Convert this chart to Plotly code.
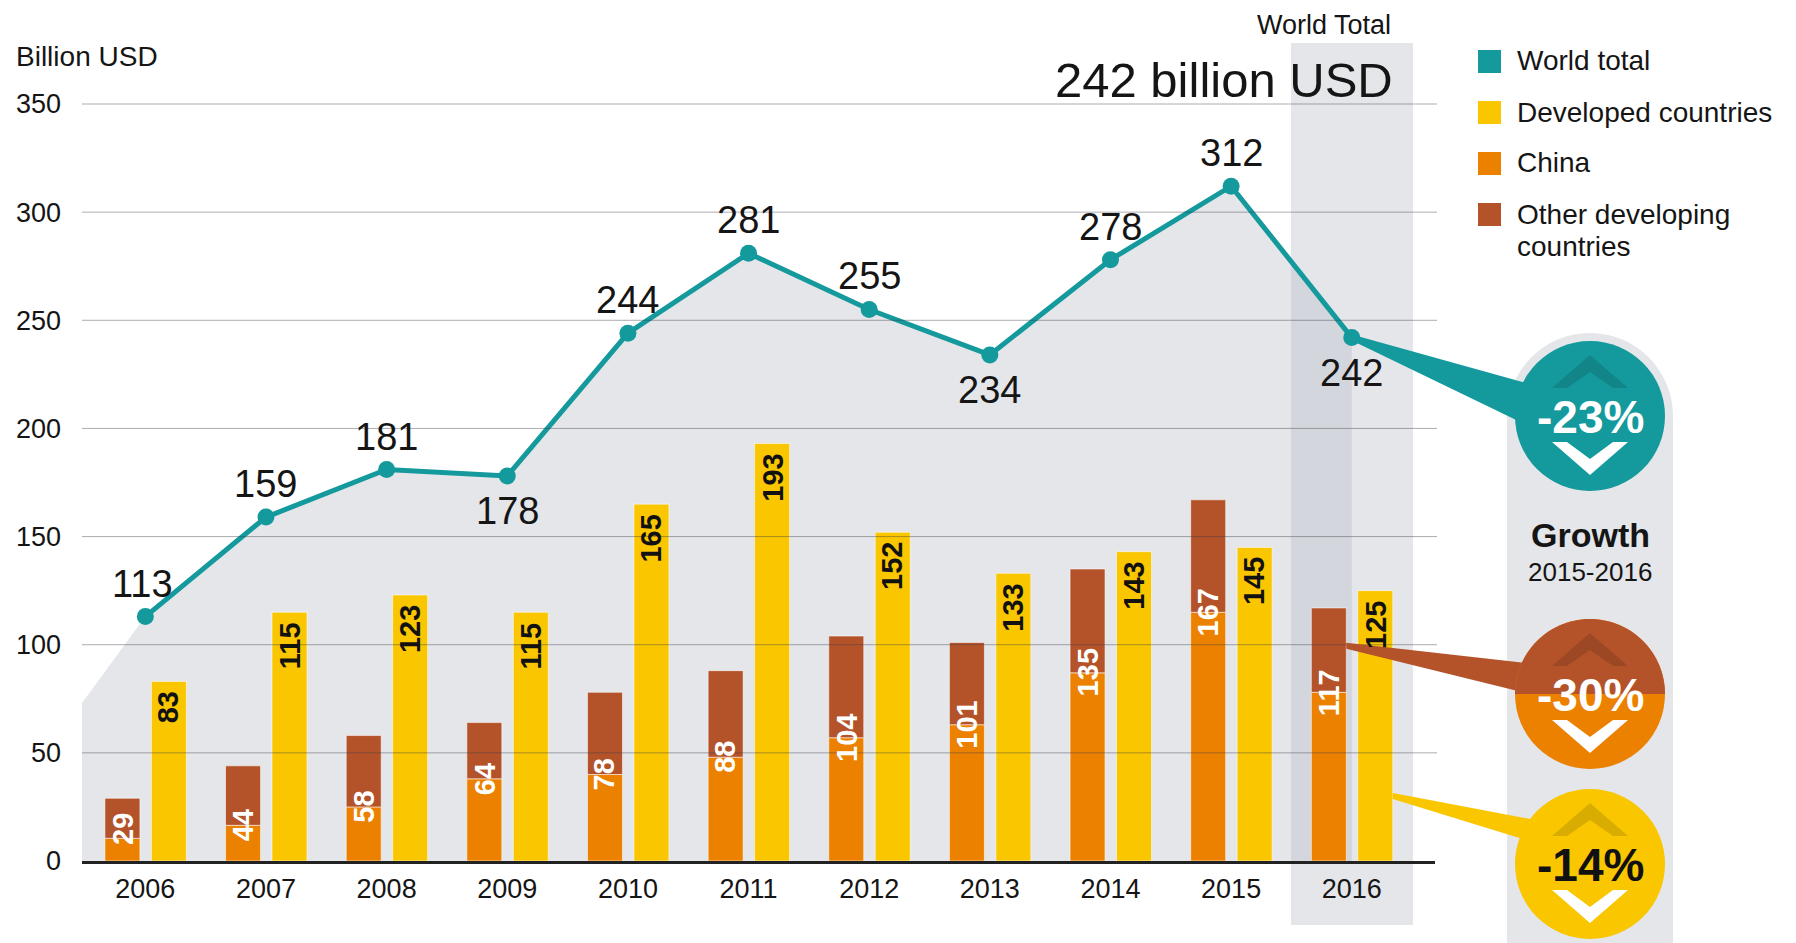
import math
import plotly.graph_objects as go

# ---------------- data ----------------
years = [2006, 2007, 2008, 2009, 2010, 2011, 2012, 2013, 2014, 2015, 2016]
world_total = [113, 159, 181, 178, 244, 281, 255, 234, 278, 312, 242]
developed = [83, 115, 123, 115, 165, 193, 152, 133, 143, 145, 125]
developing_total = [29, 44, 58, 64, 78, 88, 104, 101, 135, 167, 117]
china = [10.5, 16.5, 25, 38, 40, 48, 57, 63, 87, 115, 78]
other_developing = [round(t - c, 1) for t, c in zip(developing_total, china)]
labels_below = [2009, 2013, 2016]
growth_labels = ["-23%", "-30%", "-14%"]
y_ticks = [0, 50, 100, 150, 200, 250, 300, 350]
fill_left_value = 73

# ---------------- style ----------------
TEAL = "#14999c"
YELLOW = "#f9c600"
ORANGE = "#ec8100"
BROWN = "#b4532a"
GREYA = "rgba(180,187,197,0.36)"
PILL = "#e4e6ea"
FONT = "Liberation Sans"
TXT = "#151515"

OFF = 8                      # page body margin
PAGE_W, PAGE_H = 1796, 943
W, H = PAGE_W - OFF, PAGE_H - OFF
L, R, T, B = 82, 1435, 104, 861   # plot area in page pixels
XMIN, XMAX = 2005.475, 2016.69
YMIN, YMAX = 0, 350


def pp(px, py):
    return (px - L) / (R - L), (B - py) / (B - T)


def d2px(x, y):
    return (L + (x - XMIN) / (XMAX - XMIN) * (R - L),
            B - (y - YMIN) / (YMAX - YMIN) * (B - T))


def poly(points):
    parts = []
    for i, (px, py) in enumerate(points):
        x, y = pp(px, py)
        parts.append(("M" if i == 0 else "L") + f"{x:.5f},{y:.5f}")
    return " ".join(parts) + " Z"


def circle_shape(cx, cy, r, color, layer="above"):
    x0, y0 = pp(cx - r, cy + r)
    x1, y1 = pp(cx + r, cy - r)
    return dict(type="circle", xref="paper", yref="paper", x0=x0, y0=y0, x1=x1, y1=y1,
                fillcolor=color, line=dict(width=0), layer=layer)


def rect_shape(px0, py0, px1, py1, color, layer="above"):
    x0, y0 = pp(px0, py1)
    x1, y1 = pp(px1, py0)
    return dict(type="rect", xref="paper", yref="paper", x0=x0, y0=y0, x1=x1, y1=y1,
                fillcolor=color, line=dict(width=0), layer=layer)


def path_shape(points, color, layer="above"):
    return dict(type="path", xref="paper", yref="paper", path=poly(points),
                fillcolor=color, line=dict(width=0), layer=layer)


fig = go.Figure()

BW = 0.29
BAR_LINE = dict(color="rgba(255,255,255,0.55)", width=1)
fig.add_trace(go.Bar(x=years, y=china, width=BW, offset=-0.335, name="China",
                     marker=dict(color=ORANGE, line=BAR_LINE), showlegend=False))
fig.add_trace(go.Bar(x=years, y=other_developing, base=china, width=BW, offset=-0.335,
                     name="Other developing countries",
                     marker=dict(color=BROWN, line=BAR_LINE), showlegend=False))
fig.add_trace(go.Bar(x=years, y=developed, width=BW, offset=0.05, name="Developed countries",
                     marker=dict(color=YELLOW, line=BAR_LINE), showlegend=False))
fig.add_trace(go.Scatter(x=years, y=world_total, mode="lines+markers", name="World total",
                         line=dict(color=TEAL, width=5), marker=dict(color=TEAL, size=17),
                         showlegend=False))

ann = []
# line labels
for yr, v in zip(years, world_total):
    below = yr in labels_below
    ann.append(dict(x=yr, y=v, xref="x", yref="y", text=str(v), showarrow=False,
                    yshift=-35 if below else 33, xshift=-3 if yr == 2006 else 0,
                    font=dict(family=FONT, size=38, color=TXT)))
# bar labels
for yr, tot, c, d in zip(years, developing_total, china, developed):
    ann.append(dict(x=yr - 0.335 + BW / 2, y=max(c, 15), xref="x", yref="y", text=str(tot),
                    showarrow=False, textangle=-90, yanchor="middle",
                    font=dict(family=FONT, size=29, color="white", weight="bold")))
    ann.append(dict(x=yr + 0.05 + BW / 2, y=d, xref="x", yref="y", text=str(d),
                    showarrow=False, textangle=-90, yanchor="top", yshift=-8,
                    font=dict(family=FONT, size=29, color="#111", weight="bold")))


def add_text(px, py, text, size, color=TXT, xanchor="center", weight="normal"):
    x, y = pp(px, py)
    ann.append(dict(x=x, y=y, xref="paper", yref="paper", text=text, showarrow=False,
                    xanchor=xanchor, yanchor="middle",
                    font=dict(family=FONT, size=size, color=color, weight=weight)))


add_text(14, 57, "Billion USD", 28, xanchor="left")
add_text(1393, 25, "World Total", 27, xanchor="right")
add_text(1395, 80, "242 billion USD", 49, xanchor="right")

shapes = []
# 2016 highlight band
shapes.append(rect_shape(1291, 43, 1413, 925, GREYA, layer="below"))

# grey area under the world-total line (built from the data through the axis mapping)
area = [d2px(XMIN, 0), d2px(XMIN, fill_left_value)]
area += [d2px(x, v) for x, v in zip(years, world_total)]
area += [d2px(years[-1], 0)]
shapes.append(path_shape(area, GREYA, layer="below"))

# gridlines (drawn above bars, like the reference)
for t in y_ticks[1:]:
    _, py = d2px(XMIN, t)
    x0, y0 = pp(L, py)
    x1, _ = pp(R + 2, py)
    shapes.append(dict(type="line", xref="paper", yref="paper", x0=x0, x1=x1, y0=y0, y1=y0,
                       line=dict(color="rgba(60,60,70,0.42)", width=1), layer="above"))

# right-hand pill
CX = 1590
shapes.append(circle_shape(CX, 416, 83, PILL))
shapes.append(rect_shape(CX - 83, 416, CX + 83, 960, PILL))

# callout wedges
px16, py16 = d2px(2016, world_total[-1])
shapes.append(path_shape([(px16, py16 - 3), (px16, py16 + 3), (1562, 442), (1562, 393)], TEAL))
bx = d2px(2016 - 0.335 + BW, 0)[0]
_, by = d2px(2016, (china[-1] + developing_total[-1]) / 2 + 2)
shapes.append(path_shape([(bx, by - 3), (bx, by + 3), (1562, 702), (1562, 667)], BROWN))
yx = d2px(2016 + 0.05 + BW, 0)[0]
_, yy = d2px(2016, 30)
shapes.append(path_shape([(yx, yy - 3), (yx, yy + 3), (1562, 851), (1562, 825)], YELLOW))

# growth circles
R_C = 75
centers = [416, 694, 864]
shapes.append(circle_shape(CX, centers[0], R_C, TEAL))
shapes.append(circle_shape(CX, centers[1], R_C, ORANGE))
half = [(CX + R_C * math.cos(a), centers[1] - R_C * math.sin(a))
        for a in [math.pi * k / 60 for k in range(0, 61)]]
shapes.append(path_shape(half, BROWN))
shapes.append(circle_shape(CX, centers[2], R_C, YELLOW))

for cy in centers:
    up = [(-38, -28), (0, -61), (38, -28), (23, -28), (0, -44), (-23, -28)]
    dn = [(-38, 26), (0, 59), (38, 26), (23, 26), (0, 43), (-23, 26)]
    shapes.append(path_shape([(CX + a, cy + b) for a, b in up], "rgba(0,0,0,0.13)"))
    shapes.append(path_shape([(CX + a, cy + b) for a, b in dn], "white"))

add_text(CX, centers[0] + 1, growth_labels[0], 46, color="white", weight="bold")
add_text(CX, centers[1] + 1, growth_labels[1], 46, color="white", weight="bold")
add_text(CX, centers[2] + 1, growth_labels[2], 46, color="#111", weight="bold")
add_text(CX, 535, "Growth", 34, weight="bold")
add_text(CX, 572, "2015-2016", 26)

# legend (manual)
legend_items = [("World total", TEAL, 61), ("Developed countries", YELLOW, 112),
                ("China", ORANGE, 163), ("Other developing", BROWN, 214)]
for name, col, ly in legend_items:
    shapes.append(rect_shape(1478, ly - 11, 1501, ly + 12, col))
    add_text(1515, ly, name, 28, xanchor="left")
add_text(1515, 246, "countries", 28, xanchor="left")

fig.update_layout(
    width=W, height=H,
    margin=dict(l=L - OFF, r=PAGE_W - R, t=T - OFF, b=PAGE_H - B, autoexpand=False),
    paper_bgcolor="white", plot_bgcolor="rgba(0,0,0,0)",
    barmode="overlay", showlegend=False,
    shapes=shapes, annotations=ann,
    font=dict(family=FONT, color=TXT),
    xaxis=dict(range=[XMIN, XMAX], tickvals=years, ticktext=[str(y) for y in years],
               showgrid=False, zeroline=False, showline=True, linecolor="#222", linewidth=3,
               ticks="", ticklabelstandoff=2, tickfont=dict(family=FONT, size=27, color=TXT),
               fixedrange=True),
    yaxis=dict(range=[YMIN, YMAX], tickvals=y_ticks, showgrid=False, zeroline=False,
               showline=False, ticks="", ticklabelstandoff=20,
               tickfont=dict(family=FONT, size=27, color=TXT), fixedrange=True),
)

fig.write_html("out.html")
